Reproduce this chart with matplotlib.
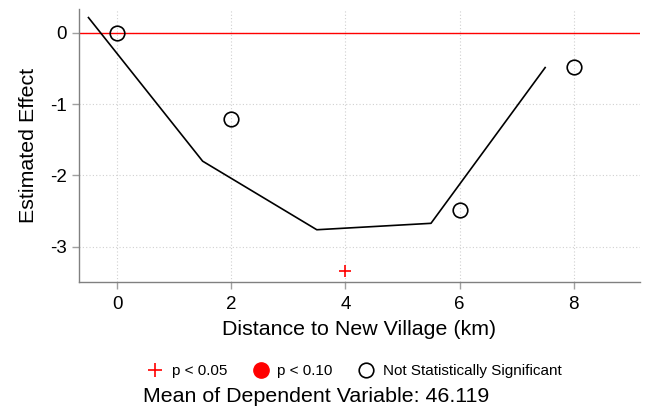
import matplotlib
matplotlib.use("Agg")
import matplotlib.pyplot as plt
from matplotlib.lines import Line2D

plt.rcParams['font.family'] = ['Liberation Sans', 'DejaVu Sans']
plt.rcParams['axes.unicode_minus'] = False

# Point estimates by distance bin
dist_ns = [0, 2, 6, 8]
effect_ns = [0.0, -1.21, -2.48, -0.48]
dist_p05 = [4]
effect_p05 = [-3.34]

# Fitted line
fit_x = [-0.5, 1.5, 3.5, 5.5, 7.5]
fit_y = [0.21, -1.80, -2.76, -2.67, -0.49]

x_ticks = [0, 2, 4, 6, 8]
y_ticks = [0, -1, -2, -3]
mean_dep = 46.119

fig = plt.figure(figsize=(6.49, 4.07), dpi=100)
ax = fig.add_axes([0.1217, 0.3079, 0.8643, 0.6700])

ax.set_xlim(-0.666, 9.16)
ax.set_ylim(-3.487, 0.33)

ax.set_xticks(x_ticks)
ax.set_yticks(y_ticks)
ax.grid(True, linestyle=(0, (1, 2)), color='#d0d0d0', linewidth=0.8)
ax.set_axisbelow(True)

for s in ['top', 'right']:
    ax.spines[s].set_visible(False)
for s in ['left', 'bottom']:
    ax.spines[s].set_color('#808080')
    ax.spines[s].set_linewidth(1.0)
ax.tick_params(axis='both', colors='#a0a0a0', labelcolor='black',
               labelsize=13.5, length=5, width=1.0)
ax.tick_params(axis='x', pad=5)

ax.axhline(0, color='red', linewidth=1.0, zorder=2)
ax.plot(fit_x, fit_y, color='black', linewidth=1.2, zorder=3)
ax.plot(dist_ns, effect_ns, linestyle='none', marker='o', markersize=10.5,
        markerfacecolor='none', markeredgecolor='black', markeredgewidth=1.2, zorder=4)
ax.plot(dist_p05, effect_p05, linestyle='none', marker='+', markersize=9,
        color='red', markeredgewidth=1.2, zorder=4)

ax.set_xlabel('Distance to New Village (km)', fontsize=15.4, labelpad=5)
ax.set_ylabel('Estimated Effect', fontsize=15.4, labelpad=9)

handles = [
    Line2D([], [], linestyle='none', marker='+', color='red', markersize=10, markeredgewidth=1.2),
    Line2D([], [], linestyle='none', marker='o', color='red', markersize=11),
    Line2D([], [], linestyle='none', marker='o', markerfacecolor='none',
           markeredgecolor='black', markersize=10.5, markeredgewidth=1.2),
]
labels = ['p < 0.05', 'p < 0.10', 'Not Statistically Significant']
fig.legend(handles, labels, loc='center', bbox_to_anchor=(0.545, 0.088), ncol=3,
           frameon=False, fontsize=11, handletextpad=0.5, columnspacing=1.6,
           handlelength=1.2)

fig.text(143 / 649, 1 - 397 / 407, f'Mean of Dependent Variable: {mean_dep:.3f}',
         fontsize=15.4, ha='left', va='center')

fig.savefig('out.png', dpi=100)
